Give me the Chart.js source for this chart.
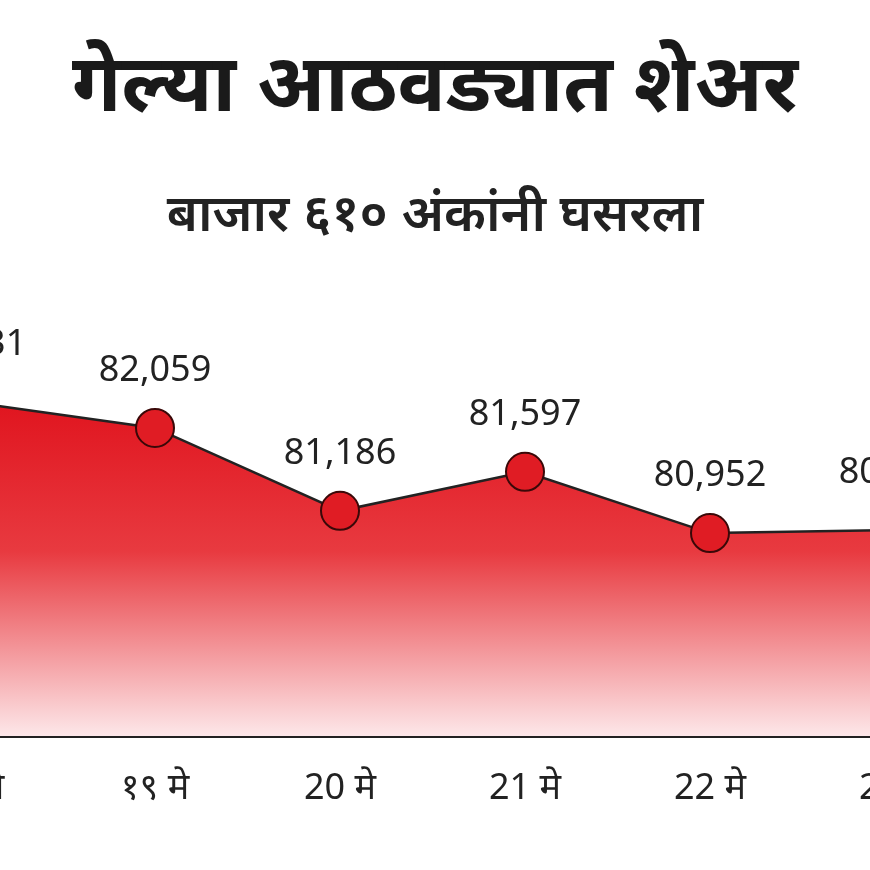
<!DOCTYPE html><html><head><meta charset="utf-8">
<script src="https://cdn.jsdelivr.net/npm/chart.js@4"></script>
<style>html,body{margin:0;width:870px;height:870px;overflow:hidden;background:#fff;font-family:"Noto Sans","DejaVu Sans",sans-serif}
#t{position:absolute;top:32px;left:0;width:870px;text-align:center;font-size:80px;font-weight:700;color:#1a1a1a;margin:0;line-height:1.2}
#s{position:absolute;top:180px;left:0;width:870px;text-align:center;font-size:52px;font-weight:600;color:#222;margin:0;line-height:1.2}
#c{position:absolute;left:-200px;top:0}</style></head><body>
<div id="t">गेल्या आठवड्यात शेअर</div><div id="s">बाजार ६१० अंकांनी घसरला</div>
<canvas id="c" width="1270" height="870" style="width:1270px;height:870px"></canvas>
<script>
const categories=['१६ मे','१९ मे','20 मे','21 मे','22 मे','23 मे'];
const values=[82331,82059,81186,81597,80952,80985];
const valueLabels=['82,331','82,059','81,186','81,597','80,952','80,985'];
const deco={id:'deco',afterDatasetsDraw(ch){const {ctx,chartArea:a,scales:{x,y}}=ch;ctx.save();
ctx.strokeStyle='#222';ctx.lineWidth=2;ctx.beginPath();ctx.moveTo(0,a.bottom);ctx.lineTo(ch.width,a.bottom);ctx.stroke();
ctx.fillStyle='#222';ctx.textAlign='center';ctx.textBaseline='middle';ctx.font='36px "Noto Sans","DejaVu Sans",sans-serif';
categories.forEach((c,i)=>ctx.fillText(c,x.getPixelForValue(i),a.bottom+52));
values.forEach((v,i)=>ctx.fillText(valueLabels[i],x.getPixelForValue(i),y.getPixelForValue(v)-57));ctx.restore();}};
new Chart(document.getElementById('c'),{type:'line',data:{labels:categories,datasets:[{data:values,borderColor:'#222',borderWidth:2.5,tension:0,
fill:'origin',backgroundColor:(cx)=>{const a=cx.chart.chartArea;if(!a)return'#e22';const g=cx.chart.ctx.createLinearGradient(0,400,0,a.bottom);g.addColorStop(0,'#e0141e');g.addColorStop(0.45,'#e83a40');g.addColorStop(1,'#fde8ea');return g;},
pointRadius:19,pointBackgroundColor:'#e01c24',pointBorderColor:'#3a0808',pointBorderWidth:2}]},
options:{responsive:false,animation:false,devicePixelRatio:1,layout:{padding:{left:170,right:175,top:260,bottom:133}},
plugins:{legend:{display:false},tooltip:{enabled:false}},
scales:{x:{display:false,offset:false},y:{display:false,min:78805,max:83827}}},plugins:[deco]});
</script></body></html>
